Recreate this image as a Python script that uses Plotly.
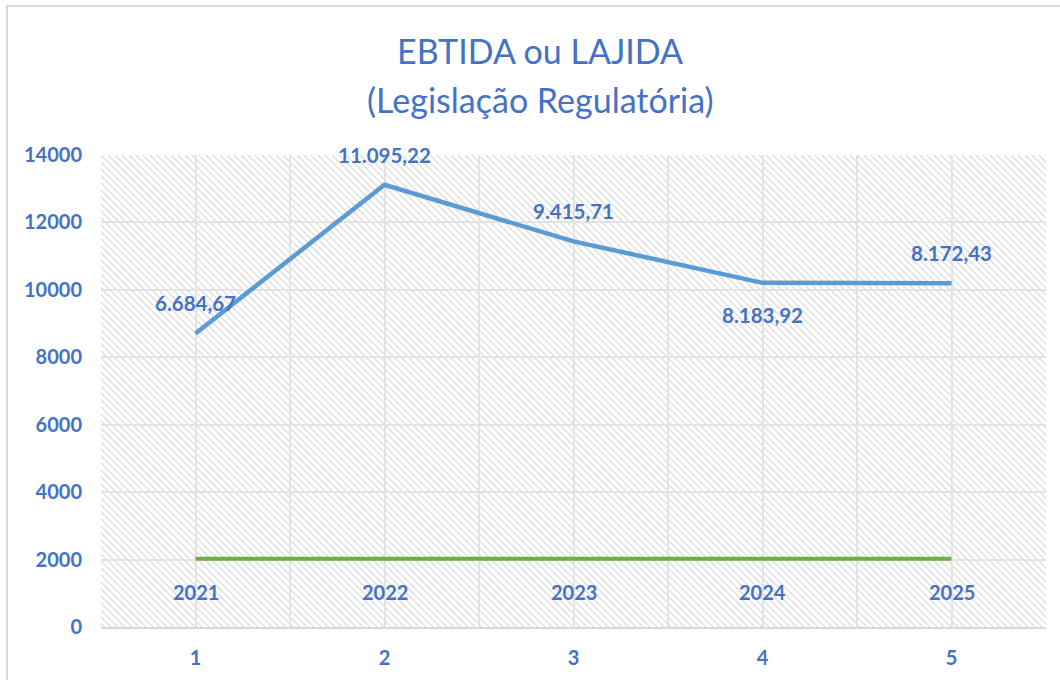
import base64
import numpy as np
import plotly.graph_objects as go

# ---- data ----
categories = [1, 2, 3, 4, 5]
years = [2021, 2022, 2023, 2024, 2025]
ebtida = [6684.67, 11095.22, 9415.71, 8183.92, 8172.43]
label_pos = ["top", "top", "top", "bottom", "top"]
y_ticks = [0, 2000, 4000, 6000, 8000, 10000, 12000, 14000]
title_lines = ["EBTIDA ou LAJIDA", "(Legislação Regulatória)"]

def br(v):
    s = f"{v:,.2f}"
    return s.replace(",", "X").replace(".", ",").replace("X", ".")

W, H = 1060, 680
L, R, T, B = 101, 14, 155, 53
PW, PH = W - L - R, H - T - B

BLUE_TXT = "#4472C4"
FONT = "Lato"

fig = go.Figure()
fig.add_trace(go.Scatter(x=categories, y=years, mode="lines", stackgroup="s", fill="none",
                         line=dict(color="#70AD47", width=4), name="Ano"))
fig.add_trace(go.Scatter(x=categories, y=ebtida, mode="lines", stackgroup="s", fill="none",
                         line=dict(color="#5B9BD5", width=4.5), name="EBTIDA"))

cum = np.array(years) + np.array(ebtida)
ann = []
for x, yv, t in zip(categories, years, years):
    ann.append(dict(x=x, y=yv, text=str(t), showarrow=False, yshift=-33,
                    font=dict(family=FONT, size=20, color=BLUE_TXT, weight="bold")))
for x, yv, v, p in zip(categories, cum, ebtida, label_pos):
    ann.append(dict(x=x, y=yv, text=br(v), showarrow=False, yshift=30 if p == "top" else -32,
                    font=dict(family=FONT, size=20.5, color=BLUE_TXT, weight="bold")))
for line, ypix in zip(title_lines, [50, 100]):
    ann.append(dict(xref="paper", yref="paper", x=(540 - L) / PW, y=(PH + T - ypix) / PH,
                    text=line, showarrow=False, xanchor="center", yanchor="middle",
                    font=dict(family=FONT, size=34, color=BLUE_TXT)))

# hatch background image
svg = (f'<svg xmlns="http://www.w3.org/2000/svg" width="{PW}" height="{PH}">'
       '<defs><pattern id="p" width="7" height="7" patternUnits="userSpaceOnUse">'
       '<path d="M-1,-1 L8,8 M-1,6 L1,8 M6,-1 L8,1" stroke="#dedede" stroke-width="1.4"/>'
       '</pattern></defs><rect width="100%" height="100%" fill="url(#p)"/></svg>')
src = "data:image/svg+xml;base64," + base64.b64encode(svg.encode()).decode()

fig.update_layout(
    width=W, height=H,
    margin=dict(l=L, r=R, t=T, b=B),
    paper_bgcolor="white", plot_bgcolor="rgba(0,0,0,0)",
    showlegend=False,
    annotations=ann,
    images=[dict(source=src, xref="paper", yref="paper", x=0, y=1, sizex=1, sizey=1,
                 sizing="stretch", xanchor="left", yanchor="top", layer="below")],
    shapes=[dict(type="rect", xref="paper", yref="paper",
                 x0=(7 - L) / PW, x1=(W + 10 - L) / PW, y0=-(B + 20) / PH, y1=(PH + T - 6) / PH,
                 line=dict(color="#d9d9d9", width=2), fillcolor="rgba(0,0,0,0)", layer="below")],
    xaxis=dict(range=[0.5, 5.5], tickvals=categories, ticktext=[str(c) for c in categories],
               showgrid=True, gridcolor="#e3e3e3", gridwidth=1.5, automargin=False,
               minor=dict(tick0=0.5, dtick=0.5, showgrid=True, gridcolor="#e3e3e3", gridwidth=1.5),
               showline=True, linecolor="#d9d9d9", linewidth=2, zeroline=False, ticks="",
               ticklabelstandoff=12,
               tickfont=dict(family=FONT, size=20, color=BLUE_TXT, weight="bold")),
    yaxis=dict(range=[0, 14000], tickvals=y_ticks, ticktext=[str(v) for v in y_ticks],
               showgrid=True, gridcolor="#e3e3e3", gridwidth=1.5, zeroline=False, ticks="",
               ticklabelstandoff=18, automargin=False,
               tickfont=dict(family=FONT, size=20, color=BLUE_TXT, weight="bold")),
)

fig.write_html("out.html")
